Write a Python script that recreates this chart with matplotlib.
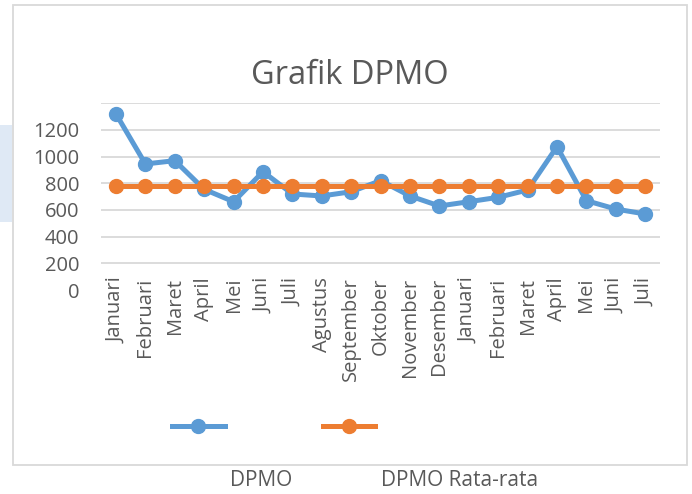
import matplotlib
matplotlib.use("Agg")
import matplotlib.pyplot as plt
from matplotlib.lines import Line2D
from matplotlib.patches import Rectangle

months = ["Januari", "Februari", "Maret", "April", "Mei", "Juni", "Juli",
          "Agustus", "September", "Oktober", "November", "Desember",
          "Januari", "Februari", "Maret", "April", "Mei", "Juni", "Juli"]
dpmo = [1320, 945, 970, 755, 662, 887, 720, 705, 737, 820, 705, 630,
        662, 695, 750, 1075, 670, 607, 570]
dpmo_avg = [783, 783, 783, 783, 783, 783, 783, 783, 783, 783, 783, 783,
            783, 783, 783, 783, 783, 783, 783]
yticks = [0, 200, 400, 600, 800, 1000, 1200, 1400]
ytick_labels = ["0", "200", "400", "600", "800", "1000", "1200", ""]

FONT = "Open Sans"
TXT = "#595959"
BLUE = "#5B9BD5"
ORANGE = "#ED7D31"
W, H = 692, 494

fig = plt.figure(figsize=(W / 100, H / 100), dpi=100)
fig.patch.set_facecolor("white")

ax = fig.add_axes([101.3 / W, 1 - 290 / H, (659.9 - 101.3) / W, (290 - 103.3) / H])
x = list(range(len(months)))
ax.plot(x, dpmo, color=BLUE, lw=3.6, marker="o", ms=10, zorder=3,
        solid_capstyle="round")
ax.plot(x, dpmo_avg, color=ORANGE, lw=3.6, marker="o", ms=10, zorder=4)

ax.set_xlim(-0.5, len(months) - 0.5)
ax.set_ylim(0, 1400)
ax.set_yticks(yticks)
ax.set_yticklabels(ytick_labels, fontsize=14.5, color=TXT, family=FONT)
ax.set_xticks(x)
ax.set_xticklabels(months, rotation=90, fontsize=14.5, color=TXT, family=FONT)
ax.tick_params(axis="y", length=0, pad=16)
ax.tick_params(axis="x", length=0, pad=-9)
for s in ax.spines.values():
    s.set_visible(False)
ax.yaxis.grid(True, color="#d9d9d9", lw=1.3)
ax.set_axisbelow(True)
ax.get_ygridlines()[0].set_visible(False)

# chart border and stray panel
fig.add_artist(Rectangle((13 / W, 1 - 465 / H), (687 - 13) / W, (465 - 5) / H,
                         transform=fig.transFigure, fill=False,
                         edgecolor="#d9d9d9", lw=1.3))
fig.add_artist(Rectangle((0, 1 - 222 / H), 12 / W, 97 / H,
                         transform=fig.transFigure, facecolor="#dfe9f5",
                         edgecolor="none"))

fig.text(350 / W, 1 - 75 / H, "Grafik DPMO", ha="center", va="center",
         fontsize=23.5, color=TXT, family=FONT)

# legend handles
ly = 1 - 426 / H
for x0, x1, c in [(172, 225, BLUE), (323, 375, ORANGE)]:
    fig.add_artist(Line2D([x0 / W, x1 / W], [ly, ly], transform=fig.transFigure,
                          color=c, lw=3.6))
    fig.add_artist(Line2D([(x0 + x1) / 2 / W], [ly], transform=fig.transFigure,
                          color=c, marker="o", ms=10, lw=0))
fig.text(230 / W, 1 - 480 / H, "DPMO", ha="left", va="center", fontsize=15,
         color=TXT, family=FONT)
fig.text(381 / W, 1 - 480 / H, "DPMO Rata-rata", ha="left", va="center",
         fontsize=15, color=TXT, family=FONT)

fig.savefig("out.png", dpi=100)
